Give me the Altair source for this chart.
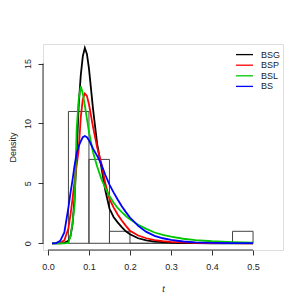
import altair as alt
import pandas as pd

# ---- data ----
t = [0.01, 0.02, 0.03, 0.04, 0.05, 0.055, 0.06, 0.065, 0.07, 0.075, 0.08, 0.085,
     0.09, 0.095, 0.10, 0.11, 0.12, 0.13, 0.14, 0.15, 0.16, 0.17, 0.18, 0.19,
     0.20, 0.22, 0.24, 0.26, 0.28, 0.30, 0.33, 0.36, 0.40, 0.45, 0.50]

bsg = [0, 0, 0, 0.03, 0.2, 0.6, 1.6, 3.8, 7.5, 11.5, 14.0, 15.6,
       16.3, 15.8, 14.6, 11.2, 8.3, 6.4, 4.4, 2.9, 2.2, 1.75, 1.35, 1.0,
       0.75, 0.42, 0.24, 0.14, 0.09, 0.05, 0.025, 0.012, 0.005, 0.0, 0.0]

bsp = [0, 0.01, 0.05, 0.25, 1.25, 2.4, 3.7, 5.2, 6.5, 7.8, 10.5, 12.0,
       12.5, 12.3, 11.6, 9.7, 8.0, 6.7, 5.0, 3.7, 3.0, 2.4, 1.9, 1.45,
       1.05, 0.65, 0.42, 0.27, 0.18, 0.12, 0.07, 0.04, 0.02, 0.01, 0.0]

bsl = [0, 0, 0, 0, 0.05, 0.6, 1.7, 3.2, 9.5, 12.0, 13.1, 12.5,
       11.5, 10.4, 9.3, 7.6, 6.4, 5.4, 4.6, 3.95, 3.4, 2.95, 2.6, 2.28,
       2.0, 1.55, 1.2, 0.9, 0.7, 0.55, 0.38, 0.27, 0.17, 0.1, 0.06]

bs = [0, 0.02, 0.2, 0.9, 3.0, 4.2, 5.3, 6.5, 7.5, 8.1, 8.5, 8.85,
      8.95, 8.85, 8.6, 7.9, 7.3, 6.6, 5.7, 4.9, 4.25, 3.65, 3.1, 2.6,
      2.15, 1.45, 0.95, 0.62, 0.42, 0.28, 0.15, 0.08, 0.04, 0.015, 0.01]

series_names = ["BSG", "BSP", "BSL", "BS"]
series_colors = ["#000000", "#FF0000", "#00C800", "#0000FF"]

bin_start = [0.05, 0.10, 0.15, 0.20, 0.25, 0.30, 0.35, 0.40, 0.45]
bin_end = [0.10, 0.15, 0.20, 0.25, 0.30, 0.35, 0.40, 0.45, 0.50]
bin_density = [11, 7, 1, 0, 0, 0, 0, 0, 1]

x_ticks = [0.0, 0.1, 0.2, 0.3, 0.4, 0.5]
y_ticks = [0, 5, 10, 15]

X_DOMAIN = [-0.012, 0.573]
Y_DOMAIN = [-0.56, 16.63]

# ---- tables ----
rows = []
for name, vals in zip(series_names, [bsg, bsp, bsl, bs]):
    for i, (tt, v) in enumerate(zip(t, vals)):
        rows.append({"t": tt, "density": v, "series": name, "idx": i})
curves = pd.DataFrame(rows)
hist = pd.DataFrame({"x": bin_start, "x2": bin_end, "y": bin_density})

xs = alt.Scale(domain=X_DOMAIN, nice=False, zero=False)
ys = alt.Scale(domain=Y_DOMAIN, nice=False, zero=False)
cs = alt.Scale(domain=series_names, range=series_colors)

FONT = "Liberation Sans"

x_axis = alt.Axis(values=x_ticks, format=".1f", tickSize=5, domain=False, grid=False,
                  labelFontSize=9, labelColor="#222", tickColor="#333",
                  labelPadding=7, title="t", titleFontStyle="italic",
                  titleFontWeight="normal", titleFontSize=9, titlePadding=13,
                  titleColor="#222", labelFont=FONT, titleFont=FONT)
y_axis = alt.Axis(values=y_ticks, tickSize=5, domain=False, grid=False,
                  labelFontSize=9, labelColor="#222", tickColor="#333",
                  labelAngle=270, labelAlign="center", labelBaseline="bottom",
                  labelPadding=6, title="Density", titleFontWeight="normal",
                  titleFontSize=9, titlePadding=6, titleColor="#222",
                  labelFont=FONT, titleFont=FONT)

hist_layer = alt.Chart(hist).mark_rect(fill=None, stroke="#444", strokeWidth=1).encode(
    x=alt.X("x:Q", scale=xs, axis=x_axis),
    x2="x2:Q",
    y=alt.Y("y:Q", scale=ys, axis=y_axis),
    y2=alt.datum(0),
)

line_layer = alt.Chart(curves).mark_line(strokeWidth=1.8).encode(
    x=alt.X("t:Q", scale=xs),
    y=alt.Y("density:Q", scale=ys),
    color=alt.Color("series:N", scale=cs, sort=series_names, legend=None),
    order="idx:Q",
)

xaxis_line = alt.Chart(pd.DataFrame({"a": [x_ticks[0]], "b": [x_ticks[-1]]})).mark_rule(
    color="#333", strokeWidth=1).encode(x="a:Q", x2="b:Q", y=alt.datum(Y_DOMAIN[0]))
yaxis_line = alt.Chart(pd.DataFrame({"a": [y_ticks[0]], "b": [y_ticks[-1]]})).mark_rule(
    color="#333", strokeWidth=1).encode(y="a:Q", y2="b:Q", x=alt.datum(X_DOMAIN[0]))

# ---- legend (drawn as marks, top-right inside the plot box) ----
legend_layers = []
for i, name in enumerate(series_names):
    ld = pd.DataFrame({"series": [name]})
    ypix = 10.6 + 10.6 * i
    legend_layers.append(
        alt.Chart(ld).mark_rule(strokeWidth=1.3).encode(
            x=alt.value(193), x2=alt.value(210), y=alt.value(ypix),
            color=alt.Color("series:N", scale=cs, legend=None))
    )
    legend_layers.append(
        alt.Chart(ld).mark_text(align="left", baseline="middle", fontSize=9,
                                font=FONT, color="#222").encode(
            x=alt.value(218), y=alt.value(ypix), text="series:N")
    )

chart = alt.layer(hist_layer, line_layer, xaxis_line, yaxis_line, *legend_layers).properties(
    width=240, height=206,
    autosize=alt.AutoSizeParams(type="none"),
    padding={"left": 35, "top": 36, "right": 14, "bottom": 47},
).configure_view(stroke="#666", strokeWidth=1).configure(background="white")

chart.save("out.html", embed_options={"renderer": "svg", "actions": False})
